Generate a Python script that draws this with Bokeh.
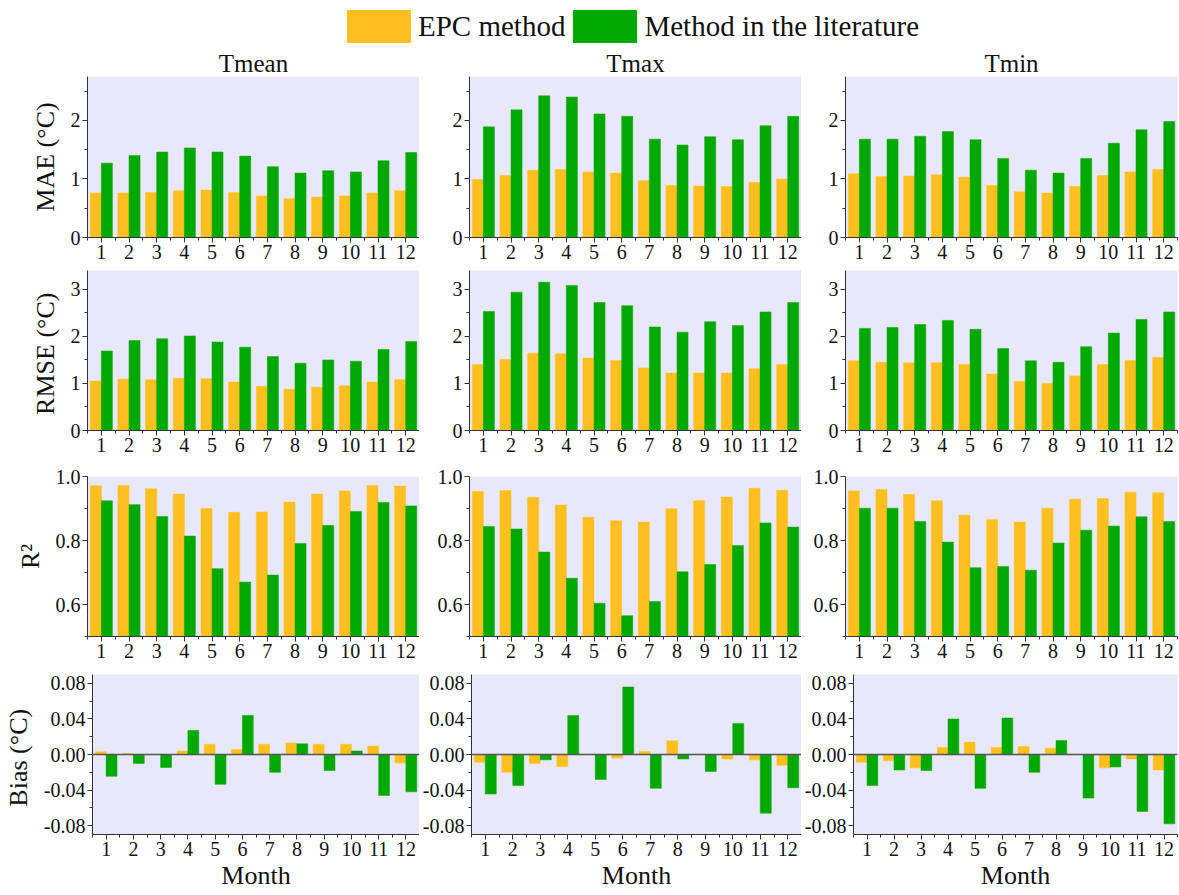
from bokeh.plotting import figure
from bokeh.layouts import column, row
from bokeh.models import (ColumnDataSource, FixedTicker, Range1d, Span, Legend,
                          LegendItem, NumeralTickFormatter)
from bokeh.transform import dodge
from bokeh.embed import file_html
from bokeh.resources import INLINE

months = list(range(1, 13))
month_labels = [str(m) for m in months]
variables = ["Tmean", "Tmax", "Tmin"]

# ---- MAE (°C) ----
mae_epc_tmean = [0.76, 0.76, 0.77, 0.80, 0.81, 0.77, 0.71, 0.66, 0.69, 0.71, 0.76, 0.80]
mae_lit_tmean = [1.27, 1.40, 1.46, 1.53, 1.46, 1.39, 1.21, 1.10, 1.14, 1.12, 1.31, 1.45]
mae_epc_tmax = [0.99, 1.06, 1.15, 1.16, 1.12, 1.10, 0.97, 0.89, 0.88, 0.87, 0.94, 1.00]
mae_lit_tmax = [1.89, 2.18, 2.42, 2.40, 2.11, 2.07, 1.68, 1.58, 1.72, 1.67, 1.91, 2.07]
mae_epc_tmin = [1.09, 1.04, 1.05, 1.07, 1.03, 0.89, 0.78, 0.76, 0.87, 1.06, 1.12, 1.16]
mae_lit_tmin = [1.68, 1.68, 1.73, 1.81, 1.67, 1.35, 1.15, 1.10, 1.35, 1.61, 1.84, 1.98]

# ---- RMSE (°C) ----
rmse_epc_tmean = [1.05, 1.09, 1.08, 1.11, 1.10, 1.03, 0.94, 0.875, 0.92, 0.95, 1.03, 1.08]
rmse_lit_tmean = [1.69, 1.91, 1.95, 2.01, 1.88, 1.77, 1.57, 1.43, 1.50, 1.47, 1.72, 1.89]
rmse_epc_tmax = [1.40, 1.51, 1.64, 1.63, 1.54, 1.49, 1.33, 1.22, 1.22, 1.22, 1.31, 1.40]
rmse_lit_tmax = [2.53, 2.94, 3.15, 3.08, 2.72, 2.65, 2.20, 2.09, 2.31, 2.23, 2.52, 2.72]
rmse_epc_tmin = [1.48, 1.45, 1.44, 1.44, 1.40, 1.20, 1.04, 1.00, 1.16, 1.40, 1.49, 1.55]
rmse_lit_tmin = [2.17, 2.19, 2.25, 2.34, 2.15, 1.74, 1.48, 1.45, 1.78, 2.07, 2.36, 2.52]

# ---- R² ----
r2_epc_tmean = [0.971, 0.972, 0.962, 0.945, 0.900, 0.888, 0.889, 0.920, 0.945, 0.955, 0.972, 0.970]
r2_lit_tmean = [0.924, 0.912, 0.875, 0.814, 0.712, 0.670, 0.692, 0.791, 0.847, 0.891, 0.919, 0.908]
r2_epc_tmax = [0.953, 0.956, 0.935, 0.911, 0.873, 0.862, 0.858, 0.899, 0.924, 0.936, 0.963, 0.957]
r2_lit_tmax = [0.844, 0.836, 0.764, 0.682, 0.604, 0.565, 0.609, 0.702, 0.725, 0.784, 0.855, 0.842]
r2_epc_tmin = [0.955, 0.959, 0.944, 0.924, 0.879, 0.865, 0.858, 0.901, 0.929, 0.931, 0.951, 0.949]
r2_lit_tmin = [0.901, 0.901, 0.859, 0.795, 0.715, 0.719, 0.707, 0.792, 0.832, 0.845, 0.874, 0.859]

# ---- Bias (°C) ----
bias_epc_tmean = [0.003, 0.001, 0.0, 0.004, 0.0115, 0.0055, 0.0115, 0.013, 0.0115, 0.0115, 0.0095, -0.0095]
bias_lit_tmean = [-0.0245, -0.010, -0.0145, 0.027, -0.0335, 0.044, -0.020, 0.012, -0.018, 0.004, -0.046, -0.042]
bias_epc_tmax = [-0.0086, -0.020, -0.010, -0.0135, 0.0, -0.004, 0.0035, 0.0155, 0.0, -0.005, -0.006, -0.012]
bias_lit_tmax = [-0.0445, -0.035, -0.006, 0.044, -0.028, 0.076, -0.038, -0.005, -0.019, 0.035, -0.066, -0.0375]
bias_epc_tmin = [-0.0086, -0.007, -0.015, 0.008, 0.014, 0.008, 0.009, 0.007, 0.0, -0.015, -0.005, -0.0175]
bias_lit_tmin = [-0.035, -0.0175, -0.018, 0.040, -0.038, 0.041, -0.020, 0.0157, -0.049, -0.014, -0.064, -0.078]

metric_labels = ["MAE (°C)", "RMSE  (°C)", "R²", "Bias  (°C)"]
series = [
    [(mae_epc_tmean, mae_lit_tmean), (mae_epc_tmax, mae_lit_tmax), (mae_epc_tmin, mae_lit_tmin)],
    [(rmse_epc_tmean, rmse_lit_tmean), (rmse_epc_tmax, rmse_lit_tmax), (rmse_epc_tmin, rmse_lit_tmin)],
    [(r2_epc_tmean, r2_lit_tmean), (r2_epc_tmax, r2_lit_tmax), (r2_epc_tmin, r2_lit_tmin)],
    [(bias_epc_tmean, bias_lit_tmean), (bias_epc_tmax, bias_lit_tmax), (bias_epc_tmin, bias_lit_tmin)],
]

# axis settings per metric row: (range, major ticks, minor ticks, format)
axis_specs = [
    ((0, 2.75), [0, 1, 2], [0.5, 1.5, 2.5], "0"),
    ((0, 3.4), [0, 1, 2, 3], [0.5, 1.5, 2.5], "0"),
    ((0.5, 1.0), [0.6, 0.8, 1.0], [0.5, 0.7, 0.9], "0.0"),
    ((-0.09, 0.09), [-0.08, -0.04, 0.0, 0.04, 0.08], [-0.06, -0.02, 0.02, 0.06], "0.00"),
]

EPC_COLOR = "#FFC01F"
LIT_COLOR = "#00A900"
BG = "#E8E8FA"
FONT = "Liberation Serif"
TEXT = "#111111"

col_widths = [419, 382, 378]
col_left = [87, 50, 44]
col_right = [0, 0, 2]
row_heights = [224, 194, 202, 229]
row_top = [30, 0, 12, 8]
row_bottom = [33, 34, 30, 61]


def make_panel(r, c):
    (y0, y1), ticks, minors, fmt = axis_specs[r]
    epc, lit = series[r][c]
    src = ColumnDataSource(dict(month=months, epc=epc, lit=lit))
    p = figure(width=col_widths[c], height=row_heights[r],
               x_range=Range1d(0.5, 12.5), y_range=Range1d(y0, y1),
               toolbar_location=None, output_backend="svg",
               min_border_left=col_left[c], min_border_right=col_right[c],
               min_border_top=row_top[r], min_border_bottom=row_bottom[r],
               title=variables[c] if r == 0 else None)
    p.background_fill_color = BG
    p.border_fill_color = "white"
    p.outline_line_color = None
    p.grid.visible = False

    p.vbar(x=dodge("month", -0.2, range=p.x_range), top="epc", width=0.4,
           source=src, fill_color=EPC_COLOR, line_color=EPC_COLOR, line_width=0.5)
    p.vbar(x=dodge("month", 0.2, range=p.x_range), top="lit", width=0.4,
           source=src, fill_color=LIT_COLOR, line_color=LIT_COLOR, line_width=0.5)

    if r == 3:
        p.add_layout(Span(location=0, dimension="width", line_color="#555555",
                          line_width=1.5))

    p.xaxis.ticker = FixedTicker(ticks=months,
                                 minor_ticks=[m + 0.5 for m in range(0, 13)])
    p.xaxis.major_label_overrides = {m: s for m, s in zip(months, month_labels)}
    p.yaxis.ticker = FixedTicker(ticks=ticks, minor_ticks=minors)
    p.yaxis.formatter = NumeralTickFormatter(format=fmt)

    for ax in (p.xaxis[0], p.yaxis[0]):
        ax.axis_line_color = "#333333"
        ax.axis_line_width = 1
        ax.major_tick_line_color = "#333333"
        ax.minor_tick_line_color = "#333333"
        ax.major_tick_in = 0
        ax.major_tick_out = 5
        ax.minor_tick_in = 0
        ax.minor_tick_out = 3
        ax.major_label_text_font = FONT
        ax.major_label_text_font_size = "20px"
        ax.major_label_text_color = TEXT
        ax.major_label_standoff = 2
        ax.axis_label_text_font = FONT
        ax.axis_label_text_font_size = "26px"
        ax.axis_label_text_font_style = "normal"
        ax.axis_label_text_color = TEXT

    if c == 0:
        p.yaxis.axis_label = metric_labels[r]
        p.yaxis.axis_label_standoff = 8
    if r == 3:
        p.xaxis.axis_label = "Month"
        p.xaxis.axis_label_standoff = 2
    if r == 0:
        p.title.text_font = FONT
        p.title.text_font_size = "25px"
        p.title.text_font_style = "normal"
        p.title.text_color = TEXT
        p.title.align = "center"
        p.title.standoff = 0
        p.title.offset = 0
    return p


# legend strip on top: the swatch renderers hold no drawable values (NaN)
lp = figure(width=1179, height=46, x_range=(0, 1), y_range=(0, 1),
            toolbar_location=None, output_backend="svg",
            x_axis_type=None, y_axis_type=None, min_border=0)
lp.outline_line_color = None
swatch_src = ColumnDataSource(dict(x=[float("nan")], top=[float("nan")]))
r_epc = lp.vbar(x="x", top="top", width=0.4, source=swatch_src,
                fill_color=EPC_COLOR, line_color=EPC_COLOR)
r_lit = lp.vbar(x="x", top="top", width=0.4, source=swatch_src,
                fill_color=LIT_COLOR, line_color=LIT_COLOR)
legend = Legend(items=[LegendItem(label="EPC method", renderers=[r_epc]),
                       LegendItem(label="Method in the literature", renderers=[r_lit])],
                orientation="horizontal", location=(339, 0),
                glyph_width=79, glyph_height=40, label_standoff=0, spacing=0,
                padding=0, margin=0, border_line_color=None,
                background_fill_alpha=0,
                label_text_font=FONT, label_text_font_size="29px",
                label_text_color=TEXT)
lp.add_layout(legend, "center")

rows = [lp]
for r in range(4):
    rows.append(row(*[make_panel(r, c) for c in range(3)], spacing=0))
layout = column(*rows, spacing=0)

open("out.html", "w").write(file_html(layout, INLINE))
